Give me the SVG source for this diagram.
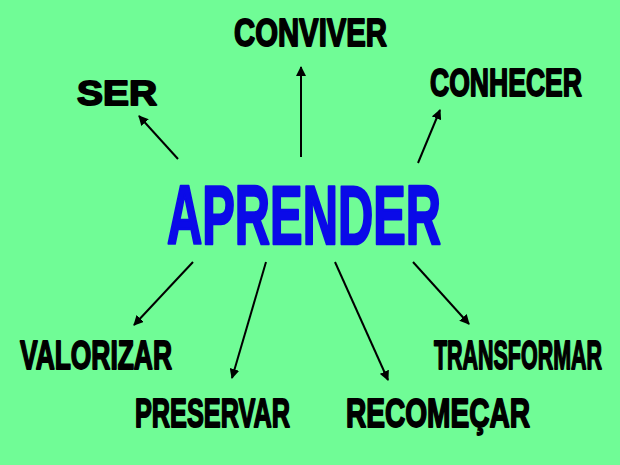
<svg xmlns="http://www.w3.org/2000/svg" width="620" height="465" viewBox="0 0 620 465">
<defs>
<style>
.lbl{font-family:"Liberation Sans",Arial,sans-serif;font-weight:bold;fill:#000;stroke:#000;stroke-width:1.8;stroke-linejoin:round}
.main{font-family:"Liberation Sans",Arial,sans-serif;font-weight:bold;fill:#0a0ae8;stroke:#0a0ae8;stroke-width:2.6;stroke-linejoin:round}
.arr{stroke:#000;stroke-width:2;fill:none;marker-end:url(#ah)}
</style>
<marker id="ah" viewBox="0 0 10 10" refX="9" refY="5" markerWidth="5" markerHeight="5" orient="auto" markerUnits="strokeWidth">
<path d="M0,0 L10,5 L0,10 Z" fill="#000"/>
</marker>
</defs>
<rect width="620" height="465" fill="#70fc96"/>
<g id="connectors">
<line class="arr" x1="178" y1="159" x2="139" y2="116"/>
<line class="arr" x1="301" y1="157" x2="301" y2="67"/>
<line class="arr" x1="418" y1="163" x2="440" y2="110"/>
<line class="arr" x1="193" y1="262" x2="134" y2="325"/>
<line class="arr" x1="266" y1="262" x2="232" y2="378"/>
<line class="arr" x1="335" y1="262" x2="388" y2="380"/>
<line class="arr" x1="413" y1="262" x2="469" y2="324"/>
</g>
<g id="aprender"><text class="main" x="167" y="244" font-size="84" textLength="274" lengthAdjust="spacingAndGlyphs">APRENDER</text></g>
<g id="ser"><text class="lbl" x="77" y="105" font-size="35" textLength="80" lengthAdjust="spacingAndGlyphs">SER</text></g>
<g id="conviver"><text class="lbl" x="234" y="46" font-size="39" textLength="153" lengthAdjust="spacingAndGlyphs">CONVIVER</text></g>
<g id="conhecer"><text class="lbl" x="430" y="96" font-size="39" textLength="152" lengthAdjust="spacingAndGlyphs">CONHECER</text></g>
<g id="valorizar"><text class="lbl" x="20" y="369" font-size="40" textLength="152" lengthAdjust="spacingAndGlyphs">VALORIZAR</text></g>
<g id="transformar"><text class="lbl" x="434" y="369" font-size="40" textLength="168" lengthAdjust="spacingAndGlyphs">TRANSFORMAR</text></g>
<g id="preservar"><text class="lbl" x="135" y="427" font-size="40" textLength="155" lengthAdjust="spacingAndGlyphs">PRESERVAR</text></g>
<g id="recomecar"><text class="lbl" x="346" y="427" font-size="40" textLength="184" lengthAdjust="spacingAndGlyphs">RECOMEÇAR</text></g>
</svg>
